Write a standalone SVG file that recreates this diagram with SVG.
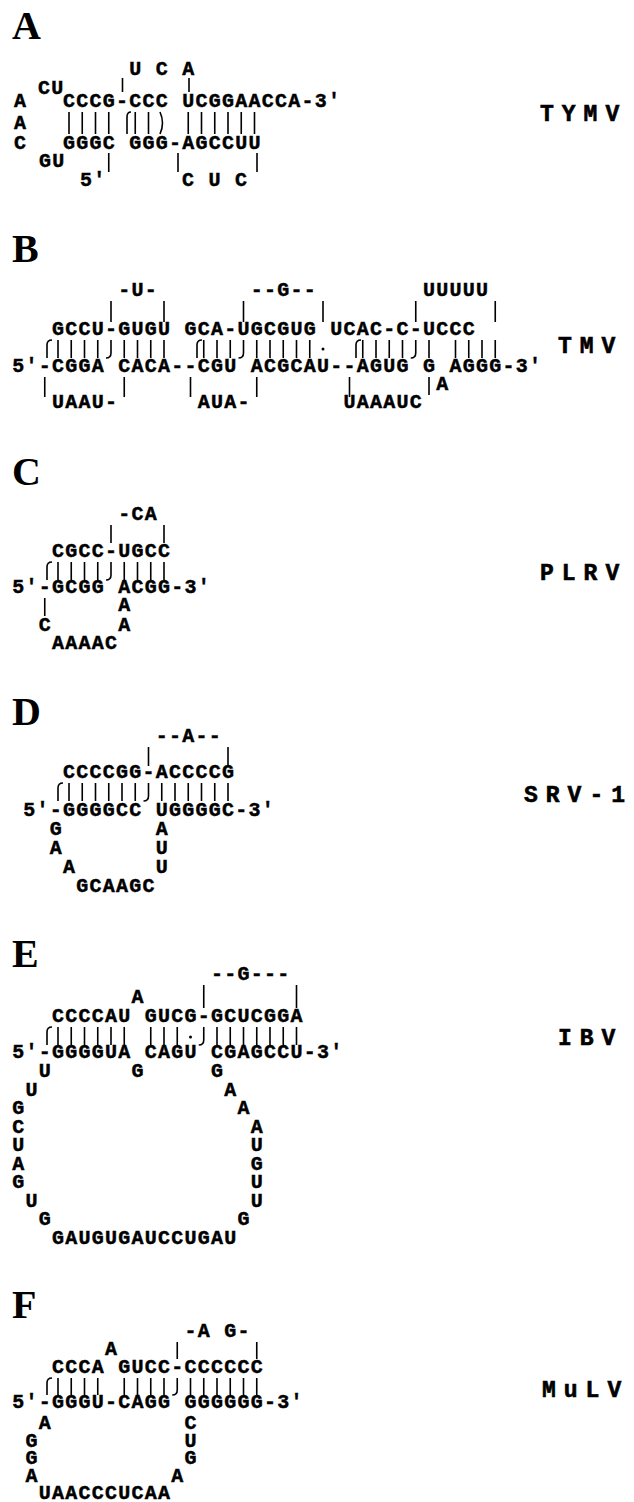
<svg xmlns="http://www.w3.org/2000/svg" width="634" height="1502" viewBox="0 0 634 1502" xml:space="preserve">
<style>
.s{font-family:"Liberation Mono","DejaVu Sans Mono",monospace;font-weight:bold;font-size:20px;letter-spacing:1.25px;fill:#000;stroke:#000;stroke-width:0.45}
.p{font-family:"Liberation Serif","Times New Roman",serif;font-weight:bold;font-size:40px;fill:#000}
.v{font-family:"Liberation Mono","DejaVu Sans Mono",monospace;font-weight:bold;font-size:23px;letter-spacing:8px;fill:#000;stroke:#000;stroke-width:0.6}
.b{stroke:#000;stroke-width:1.6;fill:none}
</style>
<rect width="634" height="1502" fill="#fff"/>

<g id="panelA">
<text class="p" x="12" y="39">A</text>
<text class="s" x="129.25" y="75">U C A</text>
<text class="s" x="38" y="94">CU</text>
<text class="s"><tspan x="14" y="107">A</tspan><tspan x="14" y="129">A</tspan><tspan x="14" y="149">C</tspan></text>
<text class="s" x="63" y="107">CCCG-CCC UCGGAACCA-3′</text>
<text class="s" x="63" y="149">GGGC GGG-AGCCUU</text>
<text class="s" x="39" y="167">GU</text>
<text class="s" x="80" y="186">5′</text>
<text class="s" x="182" y="186">C U C</text>
<path class="b" d="M122.5 78V92M189 78V92M69 112V134M82.25 112V134M95.5 112V134M108.75 112V134M135.25 112V134M148.5 112V134M188.25 112V134M201.5 112V134M214.75 112V134M228 112V134M241.25 112V134M254.5 112V134M108.75 153V172M178 153V172M257 153V172"/>
<path class="b" d="M127 134V117Q127 112 131 112M160 112Q165 123 160 134"/>
<text class="v" x="540" y="121">TYMV</text>
</g>

<g id="panelB">
<text class="p" x="12" y="262">B</text>
<text class="s" x="118.25" y="296">-U-</text>
<text class="s" x="250.75" y="296">--G--</text>
<text class="s" x="423" y="296">UUUUU</text>
<text class="s" x="52" y="335">GCCU-GUGU  GCA-UGCGUG  UCAC-C-UCCC</text>
<text class="s" x="12.25" y="372">5′-CGGA CACA--CGU ACGCAU--AGUG G AGGG-3′</text>
<text class="s" x="436.25" y="390">A</text>
<text class="s" x="52" y="408">UAAU-</text>
<text class="s" x="197.75" y="408">AUA-</text>
<text class="s" x="343.5" y="408">UAAAUC</text>
<path class="b" d="M111 301V322M164 301V322M243.5 301V322M323 301V322M415.75 301V322M495.25 301V322M58 340V358M71.25 340V358M84.5 340V358M97.75 340V358M124.25 340V358M137.5 340V358M150.75 340V358M164 340V358M203.75 340V358M217 340V358M230.25 340V358M256.75 340V358M270 340V358M283.25 340V358M296.5 340V358M309.75 340V358M362.75 340V358M376 340V358M389.25 340V358M402.5 340V358M429 340V358M455.5 340V358M468.75 340V358M482 340V358M495.25 340V358M44.75 377V397M124.25 377V397M190.5 377V397M256.75 377V397M349.5 377V397M429 377V395"/>
<path class="b" d="M47 358V345Q47 340 52 340M111 340V353Q111 358 106 358M197 358V345Q197 340 202 340M243.5 340V353Q243.5 358 238.5 358M356 358V345Q356 340 361 340M415.75 340V353Q415.75 358 410.75 358"/>
<circle cx="323" cy="349" r="1.5"/>
<text class="v" x="558" y="353">TMV</text>
</g>

<g id="panelC">
<text class="p" x="12" y="485">C</text>
<text class="s" x="118.25" y="520">-CA</text>
<text class="s" x="52" y="557">CGCC-UGCC</text>
<text class="s" x="12.25" y="593">5′-GCGG ACGG-3′</text>
<text class="s"><tspan x="118.25" y="611">A</tspan><tspan x="118.25" y="631">A</tspan></text>
<text class="s" x="38.75" y="631">C</text>
<text class="s" x="52" y="649">AAAAC</text>
<path class="b" d="M111 525V543M164 525V543M58 562V580M71.25 562V580M84.5 562V580M97.75 562V580M124.25 562V580M137.5 562V580M150.75 562V580M164 562V580M44.75 598V616"/>
<path class="b" d="M47 580V567Q47 562 52 562M111 562V575Q111 580 106 580"/>
<text class="v" x="540" y="580">PLRV</text>
</g>

<g id="panelD">
<text class="p" x="12" y="725">D</text>
<text class="s" x="155.75" y="742">--A--</text>
<text class="s" x="63" y="778">CCCCGG-ACCCCG</text>
<text class="s" x="23.25" y="816">5′-GGGGCC UGGGGC-3′</text>
<text class="s"><tspan x="49.75" y="835">G</tspan><tspan x="49.75" y="854">A</tspan><tspan x="63" y="873">A</tspan><tspan x="76.25" y="892">GCAAGC</tspan></text>
<text class="s"><tspan x="155.75" y="835">A</tspan><tspan x="155.75" y="854">U</tspan><tspan x="155.75" y="873">U</tspan></text>
<path class="b" d="M148.5 747V766M228 747V766M69 783V801M82.25 783V801M95.5 783V801M108.75 783V801M122 783V801M135.25 783V801M161.75 783V801M175 783V801M188.25 783V801M201.5 783V801M214.75 783V801M228 783V801"/>
<path class="b" d="M58 801V788Q58 783 63 783M148.5 783V796Q148.5 801 143.5 801"/>
<text class="v" x="524" y="802">SRV-1</text>
</g>

<g id="panelE">
<text class="p" x="12" y="967">E</text>
<text class="s" x="211" y="980">--G---</text>
<text class="s" x="131.5" y="1003">A</text>
<text class="s" x="52" y="1022">CCCCAU GUCG-GCUCGGA</text>
<text class="s" x="12.25" y="1058">5′-GGGGUA CAGU CGAGCCU-3′</text>
<text class="s" x="131.5" y="1077">G</text>
<text class="s"><tspan x="38.75" y="1077">U</tspan><tspan x="25.5" y="1095.5">U</tspan><tspan x="12.25" y="1114">G</tspan><tspan x="12.25" y="1132.5">C</tspan><tspan x="12.25" y="1151">U</tspan><tspan x="12.25" y="1169.5">A</tspan><tspan x="12.25" y="1188">G</tspan><tspan x="25.5" y="1206.5">U</tspan><tspan x="38.75" y="1225">G</tspan><tspan x="52" y="1243.5">GAUGUGAUCCUGAU</tspan></text>
<text class="s"><tspan x="211" y="1077">G</tspan><tspan x="224.25" y="1095.5">A</tspan><tspan x="237.5" y="1114">A</tspan><tspan x="250.75" y="1132.5">A</tspan><tspan x="250.75" y="1151">U</tspan><tspan x="250.75" y="1169.5">G</tspan><tspan x="250.75" y="1188">U</tspan><tspan x="250.75" y="1206.5">U</tspan><tspan x="237.5" y="1225">G</tspan></text>
<path class="b" d="M203.75 985V1008M296.5 985V1008M58 1027V1045M71.25 1027V1045M84.5 1027V1045M97.75 1027V1045M111 1027V1045M124.25 1027V1045M150.75 1027V1045M164 1027V1045M177.25 1027V1045M217 1027V1045M230.25 1027V1045M243.5 1027V1045M256.75 1027V1045M270 1027V1045M283.25 1027V1045M296.5 1027V1045"/>
<path class="b" d="M47 1045V1032Q47 1027 52 1027M203.75 1027V1040Q203.75 1045 198.75 1045"/>
<circle cx="190.5" cy="1037" r="1.5"/>
<text class="v" x="558" y="1045">IBV</text>
</g>

<g id="panelF">
<text class="p" x="12" y="1318">F</text>
<text class="s" x="184.5" y="1337">-A G-</text>
<text class="s" x="105" y="1355">A</text>
<text class="s" x="52" y="1373">CCCA GUCC-CCCCCC</text>
<text class="s" x="12.25" y="1408">5′-GGGU-CAGG GGGGGG-3′</text>
<text class="s"><tspan x="38.75" y="1429">A</tspan><tspan x="25.5" y="1446.5">G</tspan><tspan x="25.5" y="1464">G</tspan><tspan x="25.5" y="1481.5">A</tspan><tspan x="38.75" y="1499">UAACCCUCAA</tspan></text>
<text class="s"><tspan x="184.5" y="1429">C</tspan><tspan x="184.5" y="1446.5">U</tspan><tspan x="184.5" y="1464">G</tspan><tspan x="171.25" y="1481.5">A</tspan></text>
<path class="b" d="M177.25 1342V1359M256.75 1342V1359M58 1378V1395M71.25 1378V1395M84.5 1378V1395M97.75 1378V1395M124.25 1378V1395M137.5 1378V1395M150.75 1378V1395M164 1378V1395M190.5 1378V1395M203.75 1378V1395M217 1378V1395M230.25 1378V1395M243.5 1378V1395M256.75 1378V1395"/>
<path class="b" d="M47 1395V1383Q47 1378 52 1378M177.25 1378V1390Q177.25 1395 172.25 1395"/>
<text class="v" x="542" y="1397">MuLV</text>
</g>
</svg>
